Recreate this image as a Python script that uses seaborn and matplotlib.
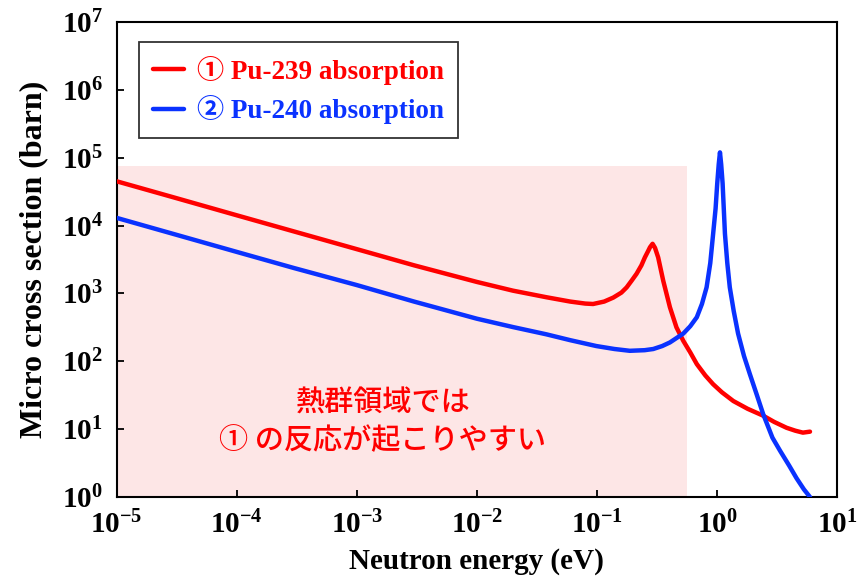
import matplotlib
matplotlib.use("Agg")
import matplotlib.pyplot as plt
import seaborn as sns
import pandas as pd

# absorption cross sections (eV, barn)
pu239_energy = [1e-5, 3e-5, 1e-4, 3e-4, 1e-3, 3e-3, 0.01, 0.02, 0.038, 0.06, 0.08, 0.093,
                0.115, 0.137, 0.16, 0.177, 0.195, 0.214, 0.235, 0.251, 0.265, 0.277, 0.291,
                0.305, 0.324, 0.357, 0.406, 0.46, 0.525, 0.6, 0.68, 0.8, 0.93, 1.1, 1.37,
                1.8, 2.43, 3.0, 3.8, 4.5, 5.2, 5.96]
pu239_sigma = [4.5e4, 2.6e4, 1.42e4, 8.2e3, 4.5e3, 2.6e3, 1480, 1100, 880, 760, 710, 700,
               760, 870, 1030, 1230, 1550, 1950, 2600, 3400, 4100, 4800, 5400,
               4700, 3400, 1540, 626, 317, 200, 135, 91, 62, 46, 35, 26,
               20, 15.8, 12.8, 10.5, 9.5, 8.9, 9.2]

pu240_energy = [1e-5, 3e-5, 1e-4, 3e-4, 1e-3, 3e-3, 0.01, 0.02, 0.038, 0.06, 0.099, 0.14,
                0.188, 0.25, 0.295, 0.35, 0.406, 0.46, 0.525, 0.6, 0.68, 0.75, 0.82, 0.88,
                0.93, 0.975, 1.006, 1.035, 1.06, 1.085, 1.115, 1.166, 1.22, 1.28, 1.38, 1.5,
                1.68, 1.88, 2.15, 2.43, 2.9, 3.36, 4.0, 4.6, 5.3, 5.96]
pu240_sigma = [1.3e4, 7.5e3, 4.1e3, 2.37e3, 1330, 760, 425, 320, 250, 205, 168, 152,
               143, 146, 152, 168, 190, 220, 257, 330, 447, 700, 1230, 2800,
               7600, 1.8e4, 4.2e4, 8e4, 1.2e5, 8e4, 4.2e4, 7600, 2800, 1230, 550, 257,
               120, 65, 32, 16.6, 7.5, 4.8, 2.9, 1.9, 1.3, 1.0]

series_labels = ["① Pu-239 absorption", "② Pu-240 absorption"]
x_ticks = [1e-5, 1e-4, 1e-3, 1e-2, 1e-1, 1e0, 1e1]
x_ticklabels = [r"$\mathregular{10^{-5}}$", r"$\mathregular{10^{-4}}$", r"$\mathregular{10^{-3}}$",
                r"$\mathregular{10^{-2}}$", r"$\mathregular{10^{-1}}$", r"$\mathregular{10^{0}}$",
                r"$\mathregular{10^{1}}$"]
y_ticks = [1e0, 1e1, 1e2, 1e3, 1e4, 1e5, 1e6, 1e7]
y_ticklabels = [r"$\mathregular{10^{%d}}$" % i for i in range(8)]

# thermal region box
thermal_max = 0.56
shade_top = 7.5e4

sns.set_theme(style="white")
plt.rcParams["font.family"] = ["Liberation Serif", "Noto Sans CJK JP"]
plt.rcParams["font.weight"] = "bold"
plt.rcParams["mathtext.fontset"] = "custom"
plt.rcParams["mathtext.rm"] = "Liberation Serif:bold"
plt.rcParams["mathtext.bf"] = "Liberation Serif:bold"

RED = "#ff0000"
BLUE = "#0a32ff"

df = pd.concat([
    pd.DataFrame({"energy": pu239_energy, "sigma": pu239_sigma, "kind": series_labels[0]}),
    pd.DataFrame({"energy": pu240_energy, "sigma": pu240_sigma, "kind": series_labels[1]}),
])

fig, ax = plt.subplots(figsize=(8.58, 5.8), dpi=100)
fig.subplots_adjust(left=0.136, right=0.9755, top=0.962, bottom=0.143)

# pink box over the thermal range
ax.fill_between([1e-5, thermal_max], 1, shade_top, color="#fde6e6", linewidth=0, zorder=0)

sns.lineplot(data=df, x="energy", y="sigma", hue="kind", palette=[RED, BLUE],
             linewidth=3.2, sort=False, ax=ax, zorder=3)

ax.set_xscale("log")
ax.set_yscale("log")
ax.set_xlim(1e-5, 1e1)
ax.set_ylim(1, 1e7)
ax.set_xticks(x_ticks)
ax.set_xticklabels(x_ticklabels)
ax.set_yticks(y_ticks)
ax.set_yticklabels(y_ticklabels)
ax.minorticks_off()
ax.tick_params(axis="both", direction="in", length=5, width=1.3, labelsize=21,
               bottom=True, left=True, pad=10, color="black", labelcolor="black")

for s in ax.spines.values():
    s.set_color("black")
    s.set_linewidth(1.5)

ax.set_xlabel("Neutron energy (eV)", fontsize=21, fontweight="bold", color="black", labelpad=6)
ax.set_ylabel("Micro cross section (barn)", fontsize=23, fontweight="bold", color="black", labelpad=10)

ax.text(1.65e-3, 12.8, "熱群領域では\n① の反応が起こりやすい", color=RED, fontsize=21,
        family=["Noto Sans CJK JP"], fontweight="medium", ha="center", va="center",
        linespacing=1.25, zorder=4)

leg = ax.legend(loc="upper left", bbox_to_anchor=(0.031, 0.958), borderaxespad=0,
                fontsize=19.5, frameon=True, fancybox=False, handlelength=1.15,
                handletextpad=0.5, borderpad=0.5, labelspacing=0.4)
leg.get_frame().set_edgecolor("black")
leg.get_frame().set_linewidth(1.3)
for t, c in zip(leg.get_texts(), [RED, BLUE]):
    t.set_color(c)
    t.set_fontweight("bold")
for line in leg.get_lines():
    line.set_linewidth(3.2)

fig.savefig("out.png", dpi=100)
